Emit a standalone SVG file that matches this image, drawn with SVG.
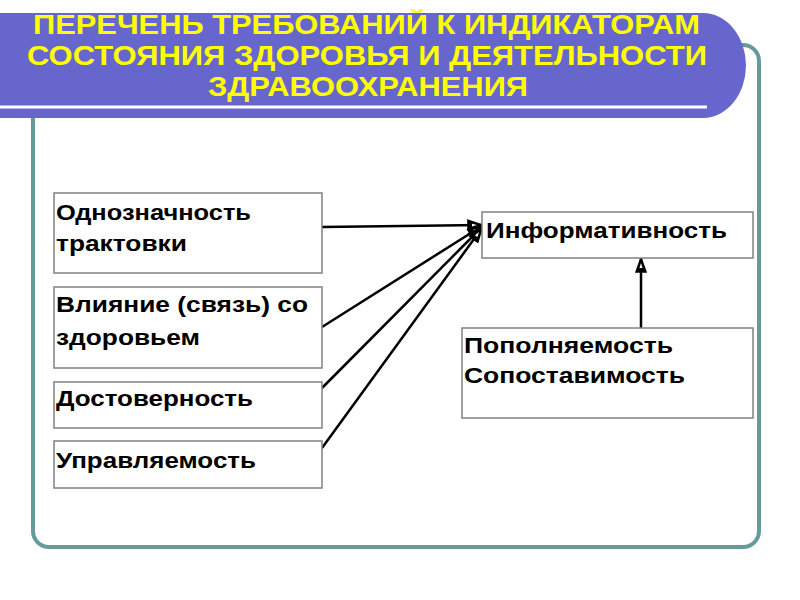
<svg xmlns="http://www.w3.org/2000/svg" width="800" height="600" viewBox="0 0 800 600">
<defs>
<style>
.box{fill:#fff;stroke:#808080;stroke-width:1.5}
.lbl{font-family:"Liberation Sans",Arial,sans-serif;font-weight:bold;font-size:22px;fill:#000}
.ttl{font-family:"Liberation Sans",Arial,sans-serif;font-weight:bold;font-size:27px;fill:#ffff00;text-anchor:middle}
.con{stroke:#000;stroke-width:2.5;fill:none;marker-end:url(#ah)}
</style>
<marker id="ah" viewBox="0 0 16 12" refX="15" refY="6" markerWidth="16" markerHeight="12" markerUnits="userSpaceOnUse" orient="auto">
<path d="M1,1 L15,6 L1,11 Z" fill="#000" stroke="#000" stroke-width="1.5" stroke-linejoin="miter"/>
<path d="M5,4.5 L10,6 L5,7.5 Z" fill="#fff"/>
</marker>
</defs>
<rect width="800" height="600" fill="#fff"/>
<g id="frame">
<rect x="33" y="45" width="726" height="502" rx="16" ry="16" fill="none" stroke="#669999" stroke-width="4"/>
</g>
<g id="header">
<path d="M0,13 H703 A43,52.5 0 0 1 746,65.5 A43,52.5 0 0 1 703,118 H0 Z" fill="#6666cc"/>
<rect x="0" y="105.5" width="707" height="3" fill="#fff"/>
<text class="ttl" x="366.5" y="34" textLength="667" lengthAdjust="spacingAndGlyphs">ПЕРЕЧЕНЬ ТРЕБОВАНИЙ К ИНДИКАТОРАМ</text>
<text class="ttl" x="367" y="65" textLength="680" lengthAdjust="spacingAndGlyphs">СОСТОЯНИЯ ЗДОРОВЬЯ И ДЕЯТЕЛЬНОСТИ</text>
<text class="ttl" x="368" y="96" textLength="320" lengthAdjust="spacingAndGlyphs">ЗДРАВООХРАНЕНИЯ</text>
</g>
<g id="connectors">
<line class="con" x1="322" y1="227" x2="482" y2="225"/>
<line class="con" x1="322" y1="327" x2="482" y2="226"/>
<line class="con" x1="322" y1="388" x2="482" y2="227"/>
<line class="con" x1="322" y1="448" x2="482" y2="228"/>
<line class="con" x1="641" y1="328" x2="641" y2="258"/>
</g>
<g id="n1">
<rect class="box" x="54" y="193" width="268" height="80"/>
<text class="lbl" x="56" y="220" textLength="195" lengthAdjust="spacingAndGlyphs">Однозначность</text>
<text class="lbl" x="56" y="251" textLength="131" lengthAdjust="spacingAndGlyphs">трактовки</text>
</g>
<g id="n2">
<rect class="box" x="54" y="287" width="268" height="81"/>
<text class="lbl" x="56" y="312" textLength="252" lengthAdjust="spacingAndGlyphs">Влияние (связь) со</text>
<text class="lbl" x="56" y="345" textLength="144" lengthAdjust="spacingAndGlyphs">здоровьем</text>
</g>
<g id="n3">
<rect class="box" x="54" y="382" width="268" height="46"/>
<text class="lbl" x="56" y="406" textLength="197" lengthAdjust="spacingAndGlyphs">Достоверность</text>
</g>
<g id="n4">
<rect class="box" x="54" y="441" width="268" height="47"/>
<text class="lbl" x="56" y="468" textLength="200" lengthAdjust="spacingAndGlyphs">Управляемость</text>
</g>
<g id="n5">
<rect class="box" x="482" y="212" width="271" height="46"/>
<text class="lbl" x="486" y="238" textLength="241" lengthAdjust="spacingAndGlyphs">Информативность</text>
</g>
<g id="n6">
<rect class="box" x="462" y="328" width="291" height="90"/>
<text class="lbl" x="464" y="353" textLength="209" lengthAdjust="spacingAndGlyphs">Пополняемость</text>
<text class="lbl" x="464" y="383" textLength="221" lengthAdjust="spacingAndGlyphs">Сопоставимость</text>
</g>
</svg>
